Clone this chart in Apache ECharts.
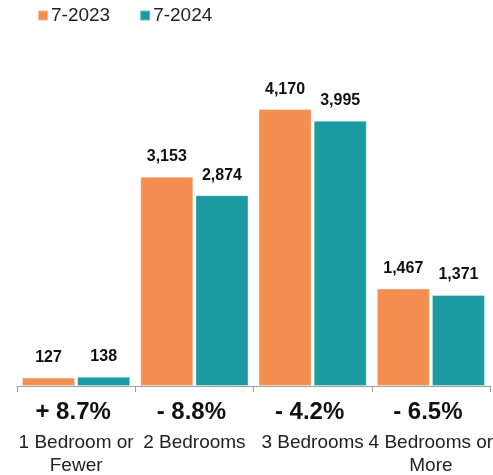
<!DOCTYPE html>
<html>
<head>
<meta charset="utf-8">
<script src="https://cdn.jsdelivr.net/npm/echarts@6/dist/echarts.min.js"></script>
<style>
  html, body { margin: 0; padding: 0; background: #fff; }
  #chart { width: 493px; height: 475px; }
</style>
</head>
<body>
<div id="chart"></div>
<script>
// Home counts by bedroom size, July 2023 vs July 2024
const categories = ['1 Bedroom or\nFewer', '2 Bedrooms', '3 Bedrooms', '4 Bedrooms or\nMore'];
const changeLabels = ['+ 8.7%', '- 8.8%', '- 4.2%', '- 6.5%'];
const seriesNames = ['7-2023', '7-2024'];
const values2023 = [127, 3153, 4170, 1467];
const values2024 = [138, 2874, 3995, 1371];

const ORANGE = '#F58F51';
const TEAL = '#1C9AA2';
const FONT = '"Liberation Sans", Arial, Helvetica, sans-serif';

const chart = echarts.init(document.getElementById('chart'), null, { renderer: 'canvas' });

const valueLabel = {
  show: true,
  position: 'top',
  distance: 12,
  fontFamily: FONT,
  fontSize: 16,
  fontWeight: 'bold',
  color: '#111',
  formatter: p => p.value.toLocaleString('en-US')
};

chart.setOption({
  animation: false,
  backgroundColor: '#fff',
  textStyle: { fontFamily: FONT },
  legend: {
    data: seriesNames,
    left: 32,
    top: 1,
    icon: 'rect',
    itemWidth: 10,
    itemHeight: 10,
    itemGap: 29,
    textStyle: { fontFamily: FONT, fontSize: 19, color: '#222', padding: [0, 0, 0, -2] }
  },
  grid: { left: 17, right: 3, top: 54, bottom: 89, containLabel: false, outerBoundsMode: 'none' },
  xAxis: {
    type: 'category',
    data: categories,
    axisLine: { lineStyle: { color: '#a0a0a0', width: 1 } },
    axisTick: { show: true, length: 6, lineStyle: { color: '#a0a0a0' } },
    axisLabel: {
      interval: 0,
      margin: 8,
      hideOverlap: false,
      formatter: (value, idx) => {
        const lines = value.split('\n').map(s => '{c|' + s + '}').join('\n');
        return '{p|' + changeLabels[idx] + '}\n' + lines;
      },
      rich: {
        p: { fontFamily: FONT, fontSize: 24, fontWeight: 'bold', color: '#111', lineHeight: 37, padding: [0, 6, 0, 0] },
        c: { fontFamily: FONT, fontSize: 19, color: '#222', lineHeight: 23 }
      }
    }
  },
  yAxis: {
    type: 'value',
    min: 0,
    max: 5000,
    show: false,
    splitLine: { show: false }
  },
  series: [
    {
      name: seriesNames[0],
      type: 'bar',
      data: values2023,
      itemStyle: { color: ORANGE, borderColor: 'rgba(255,255,255,0.35)', borderWidth: 1 },
      barGap: '4%',
      barCategoryGap: '8.5%',
      label: valueLabel
    },
    {
      name: seriesNames[1],
      type: 'bar',
      data: values2024,
      itemStyle: { color: TEAL, borderColor: 'rgba(255,255,255,0.35)', borderWidth: 1 },
      barGap: '4%',
      barCategoryGap: '8.5%',
      label: valueLabel
    }
  ]
});
</script>
</body>
</html>
